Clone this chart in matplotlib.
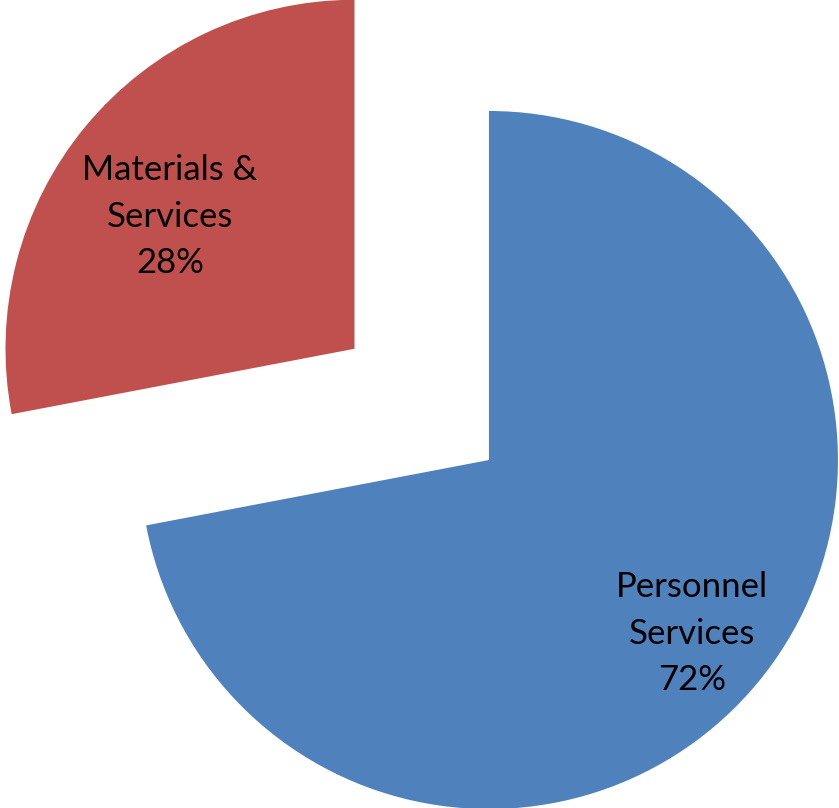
import matplotlib
matplotlib.use("Agg")
import matplotlib.pyplot as plt
import numpy as np

# Budget split by category
categories = ["Personnel\nServices", "Materials &\nServices"]
shares = [72, 28]
colors = ["#4F81BD", "#C0504D"]
explode = [0.0, 0.5]

# Where each label sits along its wedge's middle ray (fraction of the radius)
label_dist = [0.765, 0.65]
label_angle_shift = [-1.0, 4.0]

fig = plt.figure(figsize=(8.39, 8.08), dpi=100)
ax = fig.add_axes([0, 0, 1, 1])

wedges, _ = ax.pie(shares, colors=colors, explode=explode, startangle=90,
                   counterclock=False, radius=1.0,
                   wedgeprops=dict(linewidth=0))

# Put the category name and its percentage inside each wedge
for w, name, pct, d, shift in zip(wedges, categories, shares, label_dist, label_angle_shift):
    mid = np.deg2rad((w.theta1 + w.theta2) / 2 + shift)
    cx, cy = w.center
    ax.text(cx + d * np.cos(mid), cy + d * np.sin(mid), f"{name}\n{pct}%",
            ha="center", va="center", fontsize=25, family="Lato",
            linespacing=1.55, color="black")

ax.set_xlim(-1.401, 1.003)
ax.set_ylim(-0.997, 1.318)
ax.set_aspect("auto")
ax.axis("off")

fig.savefig("out.png", dpi=100, facecolor="white")
